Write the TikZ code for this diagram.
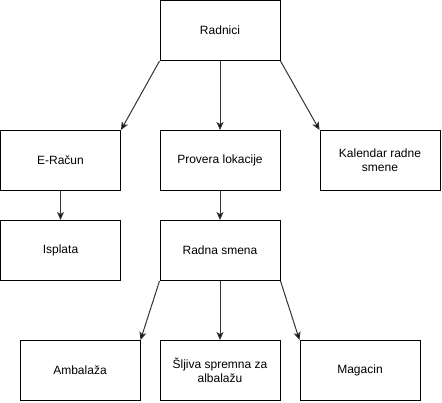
\documentclass[tikz,border=0pt]{standalone}
\usepackage{fontspec}
\setmainfont{Liberation Sans}
\usetikzlibrary{arrows.meta}
\tikzset{
    blok/.style={draw, line width=1pt, minimum width=120pt, minimum height=60pt,
        inner sep=0pt, align=center, font=\fontsize{12pt}{14pt}\selectfont},
    veza/.style={line width=1pt, draw=black!80, -{Stealth[length=8pt,width=7pt,inset=2pt,fill=black]}}
}
\begin{document}
\begin{tikzpicture}[x=1pt, y=-1pt]
    \useasboundingbox (0,0) rectangle (442,402);
    % prvi nivo
    \node[blok] (radnici) at (220,30.5) {Radnici};

    % drugi nivo
    \node[blok] (eracun) at (60.5,160.5) {E-Račun};
    \node[blok] (provera) at (220,160.5) {Provera lokacije};
    \node[blok] (kalendar) at (380,160.5) {Kalendar radne\\smene};

    % treci nivo
    \node[blok] (isplata) at (60.5,250.5) {Isplata};
    \node[blok] (smena) at (220,250.5) {Radna smena};

    % cetvrti nivo
    \node[blok] (ambalaza) at (80,370.5) {Ambalaža};
    \node[blok] (sljiva) at (220,370.5) {Šljiva spremna za\\albalažu};
    \node[blok] (magacin) at (360,370.5) {Magacin};

    % strelice
    \draw[veza] (radnici.south west) -- (eracun.north east);
    \draw[veza] (radnici.south) -- (provera.north);
    \draw[veza] (radnici.south east) -- (kalendar.north west);
    \draw[veza] (eracun.south) -- (isplata.north);
    \draw[veza] (provera.south) -- (smena.north);
    \draw[veza] (smena.south west) -- (ambalaza.north east);
    \draw[veza] (smena.south) -- (sljiva.north);
    \draw[veza] (smena.south east) -- (magacin.north west);
\end{tikzpicture}
\end{document}
